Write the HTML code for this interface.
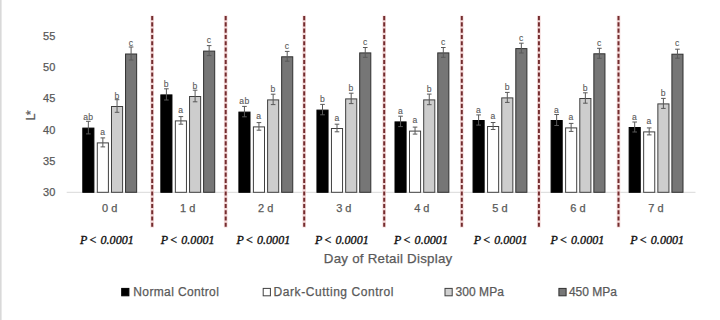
<!DOCTYPE html><html><head><meta charset="utf-8"><style>
html,body{margin:0;padding:0;background:#fff;}body{width:720px;height:320px;overflow:hidden;position:relative;}
svg{position:absolute;left:0;top:0;display:block;}
.s{font-family:"Liberation Sans",sans-serif;fill:#595959;stroke:#595959;stroke-width:0.25px;}
.p{font-family:"Liberation Serif",serif;font-style:italic;fill:#111;stroke:#111;stroke-width:0.35px;}
</style></head><body>
<svg width="720" height="320" viewBox="0 0 720 320">
<rect x="0" y="0" width="1.6" height="320" fill="#d9d9d9"/>
<text class="s" x="55.3" y="196.3" font-size="11" text-anchor="end">30</text>
<text class="s" x="55.3" y="165" font-size="11" text-anchor="end">35</text>
<text class="s" x="55.3" y="133.7" font-size="11" text-anchor="end">40</text>
<text class="s" x="55.3" y="102.4" font-size="11" text-anchor="end">45</text>
<text class="s" x="55.3" y="71.1" font-size="11" text-anchor="end">50</text>
<text class="s" x="55.3" y="39.8" font-size="11" text-anchor="end">55</text>
<text class="s" font-size="12.5" transform="translate(34.9,115.5) rotate(-90)" text-anchor="middle">L<tspan dx="-1.6">*</tspan></text>
<rect x="66.7" y="191.8" width="628.8" height="1" fill="#d9d9d9"/>
<rect x="82.8" y="128.1" width="11.1" height="64.2" fill="#000000" stroke="#000000" stroke-width="1"/>
<rect x="97.3" y="142.9" width="11.1" height="49.4" fill="#ffffff" stroke="#404040" stroke-width="1"/>
<rect x="111.5" y="106.5" width="11.1" height="85.8" fill="#cdcdcd" stroke="#404040" stroke-width="1"/>
<rect x="125.55" y="54" width="11.1" height="138.3" fill="#767676" stroke="#303030" stroke-width="1"/>
<rect x="160.85" y="94.9" width="11.1" height="97.4" fill="#000000" stroke="#000000" stroke-width="1"/>
<rect x="175.35" y="120.9" width="11.1" height="71.4" fill="#ffffff" stroke="#404040" stroke-width="1"/>
<rect x="189.55" y="96.5" width="11.1" height="95.8" fill="#cdcdcd" stroke="#404040" stroke-width="1"/>
<rect x="203.6" y="51.1" width="11.1" height="141.2" fill="#767676" stroke="#303030" stroke-width="1"/>
<rect x="238.9" y="112.1" width="11.1" height="80.2" fill="#000000" stroke="#000000" stroke-width="1"/>
<rect x="253.4" y="126.9" width="11.1" height="65.4" fill="#ffffff" stroke="#404040" stroke-width="1"/>
<rect x="267.6" y="99.9" width="11.1" height="92.4" fill="#cdcdcd" stroke="#404040" stroke-width="1"/>
<rect x="281.65" y="56.8" width="11.1" height="135.5" fill="#767676" stroke="#303030" stroke-width="1"/>
<rect x="316.95" y="110.1" width="11.1" height="82.2" fill="#000000" stroke="#000000" stroke-width="1"/>
<rect x="331.45" y="128.5" width="11.1" height="63.8" fill="#ffffff" stroke="#404040" stroke-width="1"/>
<rect x="345.65" y="98.9" width="11.1" height="93.4" fill="#cdcdcd" stroke="#404040" stroke-width="1"/>
<rect x="359.7" y="52.9" width="11.1" height="139.4" fill="#767676" stroke="#303030" stroke-width="1"/>
<rect x="395" y="121.9" width="11.1" height="70.4" fill="#000000" stroke="#000000" stroke-width="1"/>
<rect x="409.5" y="131.1" width="11.1" height="61.2" fill="#ffffff" stroke="#404040" stroke-width="1"/>
<rect x="423.7" y="99.9" width="11.1" height="92.4" fill="#cdcdcd" stroke="#404040" stroke-width="1"/>
<rect x="437.75" y="52.9" width="11.1" height="139.4" fill="#767676" stroke="#303030" stroke-width="1"/>
<rect x="473.05" y="120.5" width="11.1" height="71.8" fill="#000000" stroke="#000000" stroke-width="1"/>
<rect x="487.55" y="126.5" width="11.1" height="65.8" fill="#ffffff" stroke="#404040" stroke-width="1"/>
<rect x="501.75" y="97.9" width="11.1" height="94.4" fill="#cdcdcd" stroke="#404040" stroke-width="1"/>
<rect x="515.8" y="48.6" width="11.1" height="143.7" fill="#767676" stroke="#303030" stroke-width="1"/>
<rect x="551.1" y="120.5" width="11.1" height="71.8" fill="#000000" stroke="#000000" stroke-width="1"/>
<rect x="565.6" y="127.9" width="11.1" height="64.4" fill="#ffffff" stroke="#404040" stroke-width="1"/>
<rect x="579.8" y="98.5" width="11.1" height="93.8" fill="#cdcdcd" stroke="#404040" stroke-width="1"/>
<rect x="593.85" y="53.8" width="11.1" height="138.5" fill="#767676" stroke="#303030" stroke-width="1"/>
<rect x="629.15" y="127.5" width="11.1" height="64.8" fill="#000000" stroke="#000000" stroke-width="1"/>
<rect x="643.65" y="131.9" width="11.1" height="60.4" fill="#ffffff" stroke="#404040" stroke-width="1"/>
<rect x="657.85" y="103.9" width="11.1" height="88.4" fill="#cdcdcd" stroke="#404040" stroke-width="1"/>
<rect x="671.9" y="54.2" width="11.1" height="138.1" fill="#767676" stroke="#303030" stroke-width="1"/>
<path d="M86.05 121.3H90.65M86.05 133.9H90.65M88.35 121.3V133.9" stroke="#595959" stroke-width="1" fill="none"/>
<text class="s" x="88.35" y="120.1" font-size="8.6" text-anchor="middle" style="stroke-width:0.1px;letter-spacing:0.4px">ab</text>
<path d="M100.55 137.9H105.15M100.55 146.9H105.15M102.85 137.9V146.9" stroke="#595959" stroke-width="1" fill="none"/>
<text class="s" x="102.85" y="134.9" font-size="8.6" text-anchor="middle" style="stroke-width:0.1px;letter-spacing:0.4px">a</text>
<path d="M114.75 99.7H119.35M114.75 112.3H119.35M117.05 99.7V112.3" stroke="#595959" stroke-width="1" fill="none"/>
<text class="s" x="117.05" y="98.5" font-size="8.6" text-anchor="middle" style="stroke-width:0.1px;letter-spacing:0.4px">b</text>
<path d="M128.8 47H133.4M128.8 60H133.4M131.1 47V60" stroke="#595959" stroke-width="1" fill="none"/>
<text class="s" x="131.1" y="46" font-size="8.6" text-anchor="middle" style="stroke-width:0.1px;letter-spacing:0.4px">c</text>
<path d="M164.1 88.8H168.7M164.1 100H168.7M166.4 88.8V100" stroke="#595959" stroke-width="1" fill="none"/>
<text class="s" x="166.4" y="86.9" font-size="8.6" text-anchor="middle" style="stroke-width:0.1px;letter-spacing:0.4px">b</text>
<path d="M178.6 116.6H183.2M178.6 124.2H183.2M180.9 116.6V124.2" stroke="#595959" stroke-width="1" fill="none"/>
<text class="s" x="180.9" y="112.9" font-size="8.6" text-anchor="middle" style="stroke-width:0.1px;letter-spacing:0.4px">a</text>
<path d="M192.8 90.2H197.4M192.8 101.8H197.4M195.1 90.2V101.8" stroke="#595959" stroke-width="1" fill="none"/>
<text class="s" x="195.1" y="88.5" font-size="8.6" text-anchor="middle" style="stroke-width:0.1px;letter-spacing:0.4px">b</text>
<path d="M206.85 45.6H211.45M206.85 55.6H211.45M209.15 45.6V55.6" stroke="#595959" stroke-width="1" fill="none"/>
<text class="s" x="209.15" y="43.1" font-size="8.6" text-anchor="middle" style="stroke-width:0.1px;letter-spacing:0.4px">c</text>
<path d="M242.15 106.4H246.75M242.15 116.8H246.75M244.45 106.4V116.8" stroke="#595959" stroke-width="1" fill="none"/>
<text class="s" x="244.45" y="104.1" font-size="8.6" text-anchor="middle" style="stroke-width:0.1px;letter-spacing:0.4px">ab</text>
<path d="M256.65 122.6H261.25M256.65 130.2H261.25M258.95 122.6V130.2" stroke="#595959" stroke-width="1" fill="none"/>
<text class="s" x="258.95" y="118.9" font-size="8.6" text-anchor="middle" style="stroke-width:0.1px;letter-spacing:0.4px">a</text>
<path d="M270.85 94.2H275.45M270.85 104.6H275.45M273.15 94.2V104.6" stroke="#595959" stroke-width="1" fill="none"/>
<text class="s" x="273.15" y="91.9" font-size="8.6" text-anchor="middle" style="stroke-width:0.1px;letter-spacing:0.4px">b</text>
<path d="M284.9 51.4H289.5M284.9 61.2H289.5M287.2 51.4V61.2" stroke="#595959" stroke-width="1" fill="none"/>
<text class="s" x="287.2" y="48.8" font-size="8.6" text-anchor="middle" style="stroke-width:0.1px;letter-spacing:0.4px">c</text>
<path d="M320.2 104.4H324.8M320.2 114.8H324.8M322.5 104.4V114.8" stroke="#595959" stroke-width="1" fill="none"/>
<text class="s" x="322.5" y="102.1" font-size="8.6" text-anchor="middle" style="stroke-width:0.1px;letter-spacing:0.4px">b</text>
<path d="M334.7 124.2H339.3M334.7 131.8H339.3M337 124.2V131.8" stroke="#595959" stroke-width="1" fill="none"/>
<text class="s" x="337" y="120.5" font-size="8.6" text-anchor="middle" style="stroke-width:0.1px;letter-spacing:0.4px">a</text>
<path d="M348.9 93.2H353.5M348.9 103.6H353.5M351.2 93.2V103.6" stroke="#595959" stroke-width="1" fill="none"/>
<text class="s" x="351.2" y="90.9" font-size="8.6" text-anchor="middle" style="stroke-width:0.1px;letter-spacing:0.4px">b</text>
<path d="M362.95 47.5H367.55M362.95 57.3H367.55M365.25 47.5V57.3" stroke="#595959" stroke-width="1" fill="none"/>
<text class="s" x="365.25" y="44.9" font-size="8.6" text-anchor="middle" style="stroke-width:0.1px;letter-spacing:0.4px">c</text>
<path d="M398.25 116.2H402.85M398.25 126.6H402.85M400.55 116.2V126.6" stroke="#595959" stroke-width="1" fill="none"/>
<text class="s" x="400.55" y="113.9" font-size="8.6" text-anchor="middle" style="stroke-width:0.1px;letter-spacing:0.4px">a</text>
<path d="M412.75 127.1H417.35M412.75 134.1H417.35M415.05 127.1V134.1" stroke="#595959" stroke-width="1" fill="none"/>
<text class="s" x="415.05" y="123.1" font-size="8.6" text-anchor="middle" style="stroke-width:0.1px;letter-spacing:0.4px">a</text>
<path d="M426.95 94.1H431.55M426.95 104.7H431.55M429.25 94.1V104.7" stroke="#595959" stroke-width="1" fill="none"/>
<text class="s" x="429.25" y="91.9" font-size="8.6" text-anchor="middle" style="stroke-width:0.1px;letter-spacing:0.4px">b</text>
<path d="M441 47.5H445.6M441 57.3H445.6M443.3 47.5V57.3" stroke="#595959" stroke-width="1" fill="none"/>
<text class="s" x="443.3" y="44.9" font-size="8.6" text-anchor="middle" style="stroke-width:0.1px;letter-spacing:0.4px">c</text>
<path d="M476.3 114.9H480.9M476.3 125.1H480.9M478.6 114.9V125.1" stroke="#595959" stroke-width="1" fill="none"/>
<text class="s" x="478.6" y="112.5" font-size="8.6" text-anchor="middle" style="stroke-width:0.1px;letter-spacing:0.4px">a</text>
<path d="M490.8 122.5H495.4M490.8 129.5H495.4M493.1 122.5V129.5" stroke="#595959" stroke-width="1" fill="none"/>
<text class="s" x="493.1" y="118.5" font-size="8.6" text-anchor="middle" style="stroke-width:0.1px;letter-spacing:0.4px">a</text>
<path d="M505 92.4H509.6M505 102.4H509.6M507.3 92.4V102.4" stroke="#595959" stroke-width="1" fill="none"/>
<text class="s" x="507.3" y="89.9" font-size="8.6" text-anchor="middle" style="stroke-width:0.1px;letter-spacing:0.4px">b</text>
<path d="M519.05 43.2H523.65M519.05 53H523.65M521.35 43.2V53" stroke="#595959" stroke-width="1" fill="none"/>
<text class="s" x="521.35" y="40.6" font-size="8.6" text-anchor="middle" style="stroke-width:0.1px;letter-spacing:0.4px">c</text>
<path d="M554.35 114.5H558.95M554.35 125.5H558.95M556.65 114.5V125.5" stroke="#595959" stroke-width="1" fill="none"/>
<text class="s" x="556.65" y="112.5" font-size="8.6" text-anchor="middle" style="stroke-width:0.1px;letter-spacing:0.4px">a</text>
<path d="M568.85 123.4H573.45M568.85 131.4H573.45M571.15 123.4V131.4" stroke="#595959" stroke-width="1" fill="none"/>
<text class="s" x="571.15" y="119.9" font-size="8.6" text-anchor="middle" style="stroke-width:0.1px;letter-spacing:0.4px">a</text>
<path d="M583.05 92.8H587.65M583.05 103.2H587.65M585.35 92.8V103.2" stroke="#595959" stroke-width="1" fill="none"/>
<text class="s" x="585.35" y="90.5" font-size="8.6" text-anchor="middle" style="stroke-width:0.1px;letter-spacing:0.4px">b</text>
<path d="M597.1 48.3H601.7M597.1 58.3H601.7M599.4 48.3V58.3" stroke="#595959" stroke-width="1" fill="none"/>
<text class="s" x="599.4" y="45.8" font-size="8.6" text-anchor="middle" style="stroke-width:0.1px;letter-spacing:0.4px">c</text>
<path d="M632.4 122H637M632.4 132H637M634.7 122V132" stroke="#595959" stroke-width="1" fill="none"/>
<text class="s" x="634.7" y="119.5" font-size="8.6" text-anchor="middle" style="stroke-width:0.1px;letter-spacing:0.4px">a</text>
<path d="M646.9 127.9H651.5M646.9 134.9H651.5M649.2 127.9V134.9" stroke="#595959" stroke-width="1" fill="none"/>
<text class="s" x="649.2" y="123.9" font-size="8.6" text-anchor="middle" style="stroke-width:0.1px;letter-spacing:0.4px">a</text>
<path d="M661.1 98.4H665.7M661.1 108.4H665.7M663.4 98.4V108.4" stroke="#595959" stroke-width="1" fill="none"/>
<text class="s" x="663.4" y="95.9" font-size="8.6" text-anchor="middle" style="stroke-width:0.1px;letter-spacing:0.4px">b</text>
<path d="M675.15 49.2H679.75M675.15 58.2H679.75M677.45 49.2V58.2" stroke="#595959" stroke-width="1" fill="none"/>
<text class="s" x="677.45" y="46.2" font-size="8.6" text-anchor="middle" style="stroke-width:0.1px;letter-spacing:0.4px">c</text>
<line x1="152.2" y1="15.6" x2="152.2" y2="227.5" stroke="#f4dada" stroke-width="3.6"/>
<line x1="152.2" y1="16.1" x2="152.2" y2="227" stroke="#742c2e" stroke-width="2" stroke-dasharray="4.16 2.1"/>
<line x1="225.7" y1="15.6" x2="225.7" y2="227.5" stroke="#f4dada" stroke-width="3.6"/>
<line x1="225.7" y1="16.1" x2="225.7" y2="227" stroke="#742c2e" stroke-width="2" stroke-dasharray="4.16 2.1"/>
<line x1="304.2" y1="15.6" x2="304.2" y2="227.5" stroke="#f4dada" stroke-width="3.6"/>
<line x1="304.2" y1="16.1" x2="304.2" y2="227" stroke="#742c2e" stroke-width="2" stroke-dasharray="4.16 2.1"/>
<line x1="384.2" y1="15.6" x2="384.2" y2="227.5" stroke="#f4dada" stroke-width="3.6"/>
<line x1="384.2" y1="16.1" x2="384.2" y2="227" stroke="#742c2e" stroke-width="2" stroke-dasharray="4.16 2.1"/>
<line x1="461.8" y1="15.6" x2="461.8" y2="227.5" stroke="#f4dada" stroke-width="3.6"/>
<line x1="461.8" y1="16.1" x2="461.8" y2="227" stroke="#742c2e" stroke-width="2" stroke-dasharray="4.16 2.1"/>
<line x1="538.9" y1="15.6" x2="538.9" y2="227.5" stroke="#f4dada" stroke-width="3.6"/>
<line x1="538.9" y1="16.1" x2="538.9" y2="227" stroke="#742c2e" stroke-width="2" stroke-dasharray="4.16 2.1"/>
<line x1="618.5" y1="15.6" x2="618.5" y2="227.5" stroke="#f4dada" stroke-width="3.6"/>
<line x1="618.5" y1="16.1" x2="618.5" y2="227" stroke="#742c2e" stroke-width="2" stroke-dasharray="4.16 2.1"/>
<text class="s" x="109.65" y="211.8" font-size="11" text-anchor="middle">0 d</text>
<text class="s" x="187.7" y="211.8" font-size="11" text-anchor="middle">1 d</text>
<text class="s" x="265.75" y="211.8" font-size="11" text-anchor="middle">2 d</text>
<text class="s" x="343.8" y="211.8" font-size="11" text-anchor="middle">3 d</text>
<text class="s" x="421.85" y="211.8" font-size="11" text-anchor="middle">4 d</text>
<text class="s" x="499.9" y="211.8" font-size="11" text-anchor="middle">5 d</text>
<text class="s" x="577.95" y="211.8" font-size="11" text-anchor="middle">6 d</text>
<text class="s" x="656" y="211.8" font-size="11" text-anchor="middle">7 d</text>
<text class="p" y="243.7" font-size="12"><tspan x="80">P</tspan><tspan x="89.5" font-style="normal">&lt;</tspan><tspan x="100.5" textLength="33.3" lengthAdjust="spacing">0.0001</tspan></text>
<text class="p" y="243.7" font-size="12"><tspan x="160.7">P</tspan><tspan x="170.2" font-style="normal">&lt;</tspan><tspan x="181.2" textLength="33.3" lengthAdjust="spacing">0.0001</tspan></text>
<text class="p" y="243.7" font-size="12"><tspan x="236.4">P</tspan><tspan x="245.9" font-style="normal">&lt;</tspan><tspan x="256.9" textLength="33.3" lengthAdjust="spacing">0.0001</tspan></text>
<text class="p" y="243.7" font-size="12"><tspan x="314.9">P</tspan><tspan x="324.4" font-style="normal">&lt;</tspan><tspan x="335.4" textLength="33.3" lengthAdjust="spacing">0.0001</tspan></text>
<text class="p" y="243.7" font-size="12"><tspan x="394.1">P</tspan><tspan x="403.6" font-style="normal">&lt;</tspan><tspan x="414.6" textLength="33.3" lengthAdjust="spacing">0.0001</tspan></text>
<text class="p" y="243.7" font-size="12"><tspan x="473.65">P</tspan><tspan x="483.15" font-style="normal">&lt;</tspan><tspan x="494.15" textLength="33.3" lengthAdjust="spacing">0.0001</tspan></text>
<text class="p" y="243.7" font-size="12"><tspan x="550.5">P</tspan><tspan x="560" font-style="normal">&lt;</tspan><tspan x="571" textLength="33.3" lengthAdjust="spacing">0.0001</tspan></text>
<text class="p" y="243.7" font-size="12"><tspan x="630.3">P</tspan><tspan x="639.8" font-style="normal">&lt;</tspan><tspan x="650.8" textLength="33.3" lengthAdjust="spacing">0.0001</tspan></text>
<text class="s" x="323.8" y="263.3" font-size="13.3" textLength="128.4" lengthAdjust="spacing">Day of Retail Display</text>
<rect x="121.7" y="288.4" width="7.2" height="7.4" fill="#000" stroke="#000" stroke-width="1"/>
<text class="s" x="133.3" y="296.2" font-size="12" textLength="85.5" lengthAdjust="spacing">Normal Control</text>
<rect x="263.2" y="288.4" width="7.2" height="7.4" fill="#fff" stroke="#404040" stroke-width="1"/>
<text class="s" x="273.6" y="296.2" font-size="12" textLength="119.9" lengthAdjust="spacing">Dark-Cutting Control</text>
<rect x="445" y="288.4" width="7.2" height="7.4" fill="#d0d0d0" stroke="#404040" stroke-width="1"/>
<text class="s" x="455.5" y="296.2" font-size="12" textLength="48.4" lengthAdjust="spacing">300 MPa</text>
<rect x="558.9" y="288.4" width="7.2" height="7.4" fill="#777" stroke="#303030" stroke-width="1"/>
<text class="s" x="568.9" y="296.2" font-size="12" textLength="48.1" lengthAdjust="spacing">450 MPa</text>
</svg></body></html>
